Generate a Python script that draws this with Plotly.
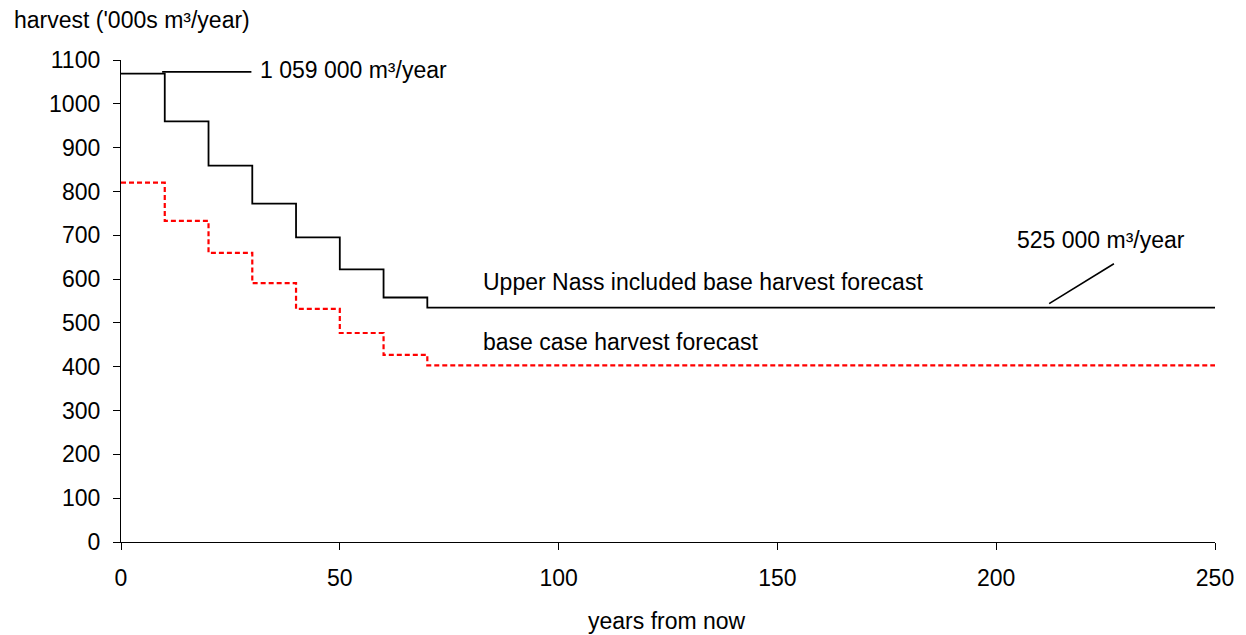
import plotly.graph_objects as go

# Data
years = [0, 10, 20, 30, 40, 50, 60, 70, 250]
upper_nass = [1069, 960, 859, 772, 695, 622, 558, 535, 535]
base_case = [820, 733, 660, 591, 532, 477, 427, 403, 403]

x_ticks = [0, 50, 100, 150, 200, 250]
y_ticks = [0, 100, 200, 300, 400, 500, 600, 700, 800, 900, 1000, 1100]

FONT = "Liberation Sans, Arial, sans-serif"
FS = 23

# page body margin of 8px shifts the figure; compensate
OFF = 8
W, H = 1246 - OFF, 635 - OFF
L, R, T = 121 - OFF, 29, 60 - OFF
B = H - T - 482
pw, ph = W - L - R, H - T - B


def px_x(p):
    return (p - OFF - L) / pw


def px_y(p):
    return (H - B - (p - OFF)) / ph


fig = go.Figure()
fig.add_trace(go.Scatter(
    x=years, y=base_case, mode="lines", line_shape="hv",
    line=dict(color="#ff0000", width=2.2, dash="5px,3px"),
    name="base case harvest forecast", showlegend=False, hoverinfo="skip"))
fig.add_trace(go.Scatter(
    x=years, y=upper_nass, mode="lines", line_shape="hv",
    line=dict(color="#000000", width=1.8),
    name="Upper Nass included base harvest forecast", showlegend=False, hoverinfo="skip"))

# leader lines for callouts
fig.add_shape(type="line", x0=9.4, y0=1073, x1=29.8, y1=1073, xref="x", yref="y",
              line=dict(color="black", width=1.6))
fig.add_shape(type="line", x0=212.1, y0=544, x1=226.9, y1=635, xref="x", yref="y",
              line=dict(color="black", width=1.6))

ann_font = dict(family=FONT, size=FS, color="black")
fig.add_annotation(x=31.3, y=1078, text="1 059 000 m³/year", xanchor="left", yanchor="middle",
                   showarrow=False, font=ann_font)
fig.add_annotation(x=204.4, y=689, text="525 000 m³/year", xanchor="left", yanchor="middle",
                   showarrow=False, font=ann_font)
fig.add_annotation(x=82.2, y=594, text="Upper Nass included base harvest forecast", xanchor="left",
                   yanchor="middle", showarrow=False, font=ann_font)
fig.add_annotation(x=82.2, y=457, text="base case harvest forecast", xanchor="left",
                   yanchor="middle", showarrow=False, font=ann_font)

fig.add_annotation(x=px_x(12), y=px_y(20), xref="paper", yref="paper",
                   text="harvest ('000s m³/year)", xanchor="left", yanchor="middle",
                   showarrow=False, font=ann_font)
fig.add_annotation(x=px_x(668), y=px_y(621), xref="paper", yref="paper",
                   text="years from now", xanchor="center", yanchor="middle",
                   showarrow=False, font=ann_font)

fig.update_layout(
    width=W, height=H,
    margin=dict(l=L, r=R, t=T, b=B, pad=0),
    paper_bgcolor="white", plot_bgcolor="white",
    font=dict(family=FONT, size=FS, color="black"),
    xaxis=dict(range=[0, 250], tickvals=x_ticks, ticktext=[str(v) for v in x_ticks],
               showgrid=False, zeroline=False, showline=True, linecolor="black", linewidth=1.3,
               ticks="outside", ticklen=7, tickwidth=1.3, tickcolor="black",
               ticklabelstandoff=8, fixedrange=True),
    yaxis=dict(range=[0, 1100], tickvals=y_ticks, ticktext=[str(v) for v in y_ticks],
               showgrid=False, zeroline=False, showline=True, linecolor="black", linewidth=1.3,
               ticks="outside", ticklen=7, tickwidth=1.3, tickcolor="black",
               ticklabelstandoff=8, fixedrange=True),
)

fig.write_html("out.html")
